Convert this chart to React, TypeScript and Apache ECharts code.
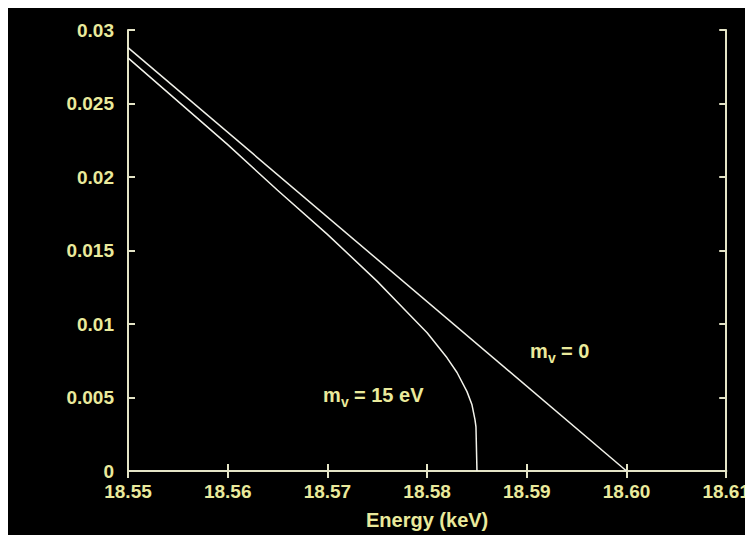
import React, { useEffect, useRef } from "react";
import * as echarts from "echarts";

const xTickLabels = ["18.55", "18.56", "18.57", "18.58", "18.59", "18.60", "18.61"];
const yTickLabels = ["0", "0.005", "0.01", "0.015", "0.02", "0.025", "0.03"];

// m_nu = 0 (straight Kurie line)
const masslessEnergy = [18.55, 18.6];
const masslessValue = [0.0288, 0];

// m_nu = 15 eV (curve bending down to a vertical end at 18.585)
const massiveEnergy = [
  18.55, 18.56, 18.565, 18.57, 18.575, 18.578, 18.58, 18.582, 18.583, 18.584,
  18.5845, 18.5848, 18.5849, 18.585,
];
const massiveValue = [
  0.0281, 0.0222, 0.0191, 0.0161, 0.0129, 0.0108, 0.0094, 0.0077, 0.0067, 0.0054,
  0.0045, 0.0035, 0.0030, 0,
];

const xAxisName = "Energy (keV)";
const labelMassless = "= 0";
const labelMassive = "= 15 eV";

const TEXT = "#eaea9c";
const AXIS = "#e4e4c6";
const LINE = "#f2f2ea";
const FONT = "Liberation Sans, Arial, sans-serif";

function massLabel(x: number, y: number, rest: string) {
  const main = { fill: TEXT, fontFamily: FONT, fontWeight: "bold" as const, fontSize: 20, verticalAlign: "middle" as const, align: "left" as const };
  return {
    type: "group",
    x,
    y,
    silent: true,
    children: [
      { type: "text", x: 0, y: 0, style: { ...main, text: "m" } },
      { type: "text", x: 18, y: 7, style: { ...main, fontSize: 14, text: "v" } },
      { type: "text", x: 31, y: 0, style: { ...main, text: rest } },
    ],
  };
}

export default function App() {
  const ref = useRef<HTMLDivElement>(null);
  useEffect(() => {
    if (!ref.current) return;
    const chart = echarts.init(ref.current, null, { renderer: "svg" });
    const axisCommon = {
      type: "value" as const,
      axisLine: { show: true, lineStyle: { color: AXIS, width: 2 } },
      axisTick: { show: true, inside: true, length: 7, lineStyle: { color: AXIS, width: 2 } },
      splitLine: { show: false },
    };
    chart.setOption({
      animation: false,
      backgroundColor: "#000000",
      grid: { left: 120, top: 25, right: 25, bottom: 63, containLabel: false },
      xAxis: [
        {
          ...axisCommon,
          position: "bottom",
          min: 18.55,
          max: 18.61,
          interval: 0.01,
          name: xAxisName,
          nameLocation: "middle",
          nameGap: 39,
          nameTextStyle: { color: TEXT, fontSize: 20, fontWeight: "bold", fontFamily: FONT },
          axisLabel: {
            color: TEXT,
            fontSize: 19,
            fontWeight: "bold",
            fontFamily: FONT,
            margin: 11,
            formatter: (v: number) => xTickLabels[Math.round((v - 18.55) / 0.01)] ?? "",
          },
        },
        {
          ...axisCommon,
          position: "top",
          min: 18.55,
          max: 18.61,
          interval: 0.01,
          axisLabel: { show: false },
        },
      ],
      yAxis: [
        {
          ...axisCommon,
          position: "left",
          min: 0,
          max: 0.03,
          interval: 0.005,
          axisLabel: {
            color: TEXT,
            fontSize: 19,
            fontWeight: "bold",
            fontFamily: FONT,
            margin: 14,
            formatter: (v: number) => yTickLabels[Math.round(v / 0.005)] ?? "",
          },
        },
        {
          ...axisCommon,
          position: "right",
          min: 0,
          max: 0.03,
          interval: 0.005,
          axisLabel: { show: false },
        },
      ],
      series: [
        {
          type: "line",
          name: "m0",
          showSymbol: false,
          data: masslessEnergy.map((e, i) => [e, masslessValue[i]]),
          lineStyle: { color: LINE, width: 1.5 },
        },
        {
          type: "line",
          name: "m15",
          showSymbol: false,
          data: massiveEnergy.map((e, i) => [e, massiveValue[i]]),
          lineStyle: { color: LINE, width: 1.5 },
        },
      ],
      graphic: [massLabel(522, 346, labelMassless), massLabel(315, 390, labelMassive)],
    });
    return () => chart.dispose();
  }, []);
  return (
    <div
      ref={ref}
      style={{ width: 745, height: 530, marginTop: -3, background: "#000" }}
    />
  );
}
